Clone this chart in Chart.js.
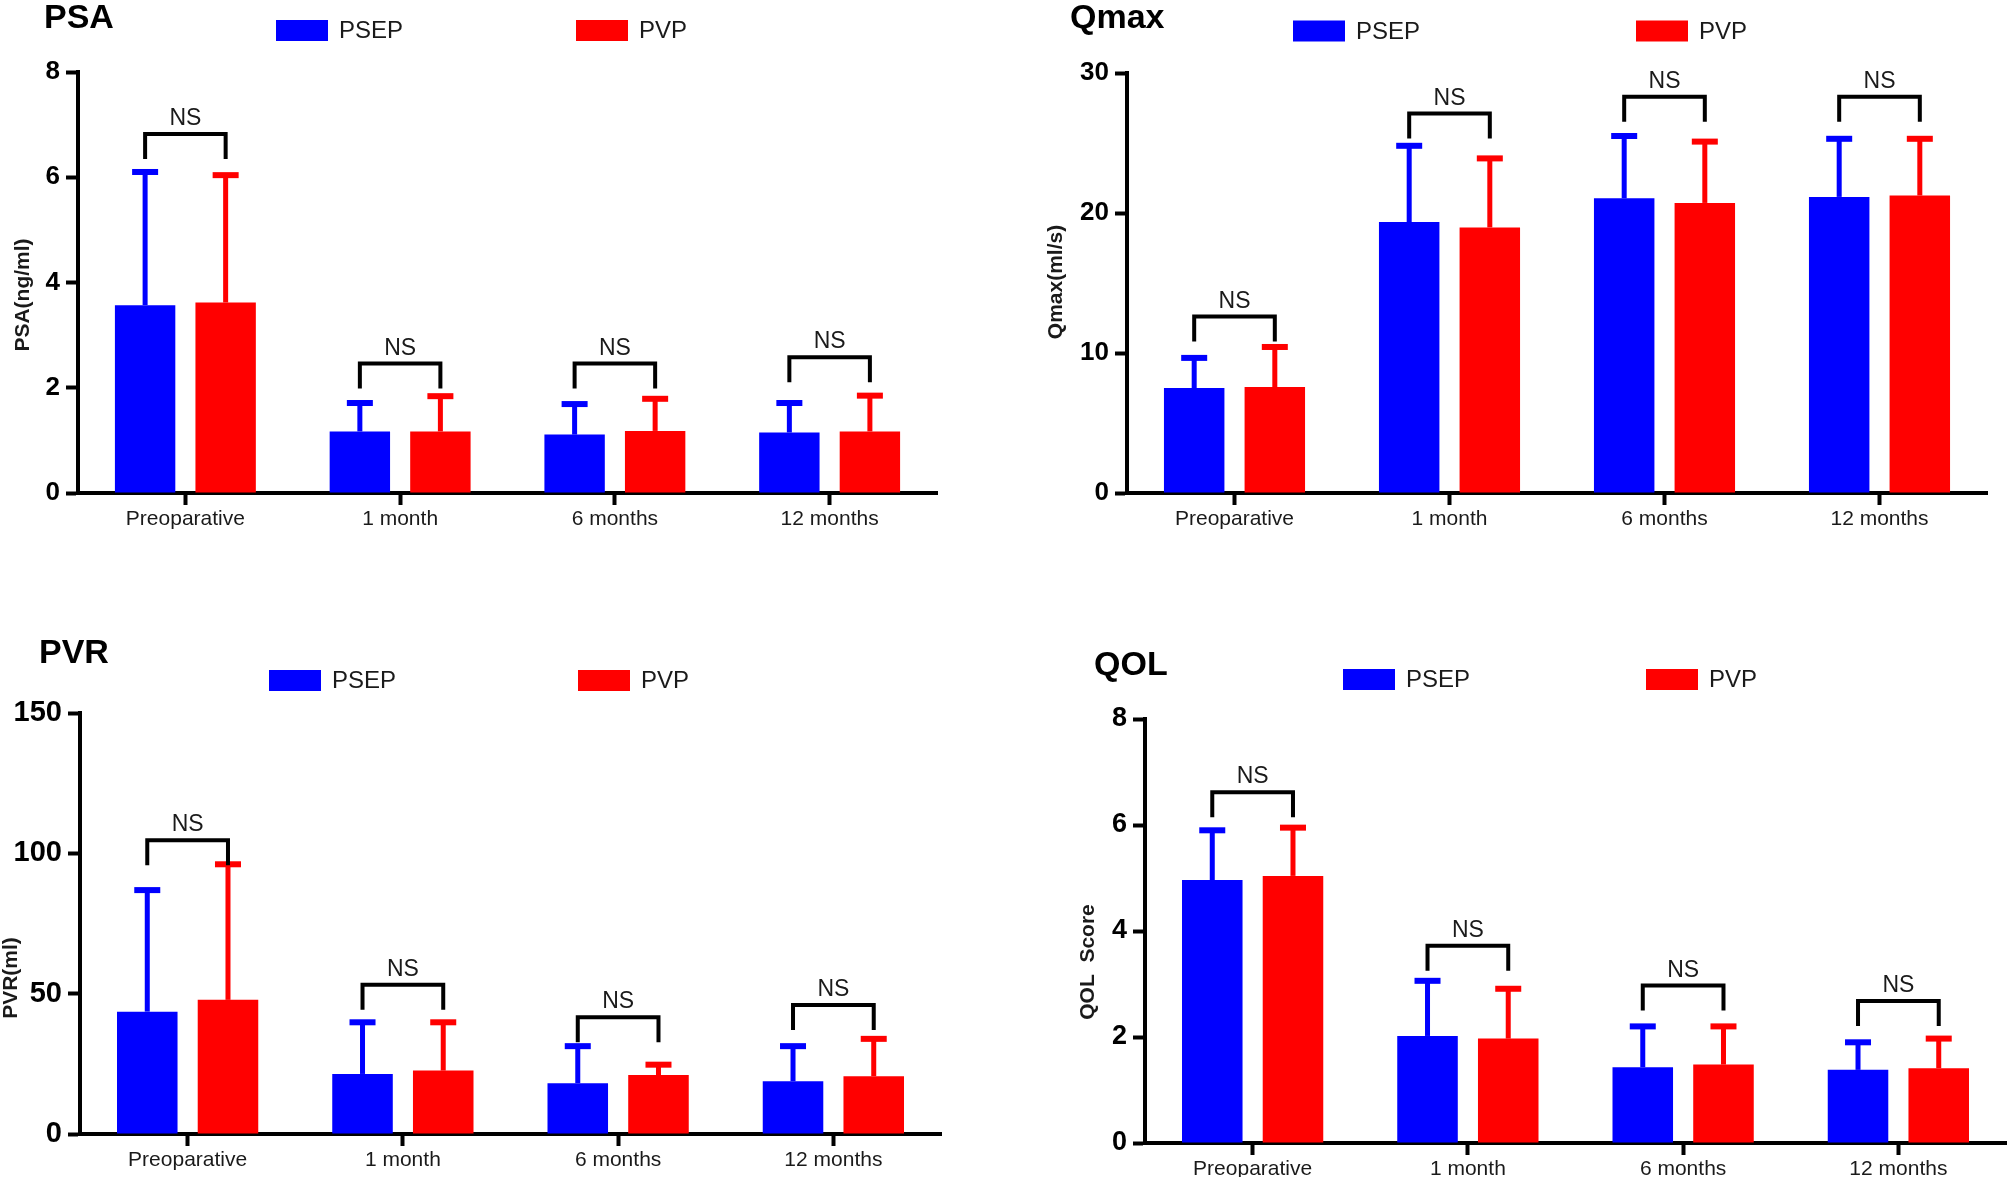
<!DOCTYPE html>
<html lang="en">
<head>
<meta charset="UTF-8">
<title>PSEP vs PVP follow-up</title>
<script src="https://cdn.jsdelivr.net/npm/chart.js@4.4.0/dist/chart.umd.min.js"></script>
<style>
  body { margin: 0; background: #fff; width: 2008px; height: 1177px; position: relative; overflow: hidden; }
  canvas { position: absolute; }
</style>
</head>
<body>
<canvas id="psa" width="1004" height="588" style="left:0;top:0"></canvas>
<canvas id="qmax" width="1004" height="588" style="left:1004px;top:0"></canvas>
<canvas id="pvr" width="1004" height="588" style="left:0;top:589px"></canvas>
<canvas id="qol" width="1004" height="588" style="left:1004px;top:589px"></canvas>
<script>
const timepoints = ['Preoparative', '1 month', '6 months', '12 months'];
const groupNames = ['PSEP', 'PVP'];
const groupColors = ['#0000ff', '#ff0000'];

// PSA (ng/ml), mean and SD
const psaPsep = [3.57, 1.17, 1.11, 1.15];
const psaPsepSd = [2.53, 0.54, 0.58, 0.56];
const psaPvp = [3.62, 1.17, 1.18, 1.17];
const psaPvpSd = [2.42, 0.67, 0.61, 0.68];
const psaNs = [6.82, 2.46, 2.46, 2.58];
const psaTicks = [0, 2, 4, 6, 8];

// Qmax (ml/s)
const qmaxPsep = [7.50, 19.35, 21.05, 21.15];
const qmaxPsepSd = [2.15, 5.45, 4.45, 4.15];
const qmaxPvp = [7.57, 18.97, 20.72, 21.25];
const qmaxPvpSd = [2.86, 4.93, 4.38, 4.05];
const qmaxNs = [12.6, 27.1, 28.3, 28.3];
const qmaxTicks = [0, 10, 20, 30];

// PVR (ml)
const pvrPsep = [43.6, 21.4, 18.1, 18.8];
const pvrPsepSd = [43.3, 18.4, 13.2, 12.5];
const pvrPvp = [47.8, 22.6, 21.0, 20.6];
const pvrPvpSd = [48.3, 17.2, 3.7, 13.3];
const pvrNs = [104.7, 53.2, 41.6, 46.0];
const pvrTicks = [0, 50, 100, 150];

// QOL score
const qolPsep = [4.96, 2.02, 1.43, 1.38];
const qolPsepSd = [0.94, 1.04, 0.77, 0.52];
const qolPvp = [5.04, 1.97, 1.48, 1.41];
const qolPvpSd = [0.91, 0.94, 0.72, 0.56];
const qolNs = [6.62, 3.72, 2.97, 2.68];
const qolTicks = [0, 2, 4, 6, 8];

const FONT = "'Liberation Sans', Arial, sans-serif";
Chart.defaults.font.family = FONT;

// error bars, NS brackets, panel title, legend and y title
const decor = {
  id: 'decor',
  afterDatasetsDraw(chart) {
    const ctx = chart.ctx, y = chart.scales.y;
    chart.data.datasets.forEach((ds, i) => {
      chart.getDatasetMeta(i).data.forEach((bar, j) => {
        const top = y.getPixelForValue(ds.data[j] + ds.sd[j]);
        ctx.fillStyle = ds.backgroundColor;
        ctx.fillRect(bar.x - 2.5, top, 5, bar.y - top);
        ctx.fillRect(bar.x - 13, top - 3, 26, 6);
      });
    });
  },
  afterDraw(chart, args, o) {
    const ctx = chart.ctx, y = chart.scales.y;
    const m0 = chart.getDatasetMeta(0).data, m1 = chart.getDatasetMeta(1).data;
    ctx.save();
    // brackets
    ctx.strokeStyle = '#000';
    ctx.lineWidth = 4;
    ctx.lineJoin = 'miter';
    ctx.font = '23px ' + FONT;
    ctx.fillStyle = '#1a1a1a';
    ctx.textAlign = 'center';
    ctx.textBaseline = 'alphabetic';
    o.ns.forEach((v, j) => {
      const x1 = m0[j].x, x2 = m1[j].x, yt = y.getPixelForValue(v);
      ctx.beginPath();
      ctx.moveTo(x1, yt + 25);
      ctx.lineTo(x1, yt);
      ctx.lineTo(x2, yt);
      ctx.lineTo(x2, yt + 25);
      ctx.stroke();
      ctx.fillText('NS', (x1 + x2) / 2, yt - 9);
    });
    // title
    ctx.textAlign = 'left';
    ctx.fillStyle = '#000';
    ctx.font = 'bold 34px ' + FONT;
    ctx.fillText(o.title, o.titleX - o.ox, o.titleY - o.oy);
    // legend
    ctx.font = '24px ' + FONT;
    ctx.textBaseline = 'middle';
    groupNames.forEach((g, i) => {
      const bx = o.legendX[i] - o.ox, cy = o.legendY - o.oy;
      ctx.fillStyle = groupColors[i];
      ctx.fillRect(bx, cy - 10.5, 52, 21);
      ctx.fillStyle = '#1a1a1a';
      ctx.fillText(g, bx + 63, cy + 1);
    });
    // y axis title
    ctx.translate(o.yTitleX - o.ox, o.yTitleY - o.oy);
    ctx.rotate(-Math.PI / 2);
    ctx.textAlign = 'center';
    ctx.font = 'bold 21px ' + FONT;
    ctx.fillStyle = '#1a1a1a';
    ctx.fillText(o.yTitle, 0, 0);
    ctx.restore();
  }
};

function panel(id, p) {
  const W = 1004, H = 588;
  new Chart(document.getElementById(id), {
    type: 'bar',
    data: {
      labels: timepoints,
      datasets: [
        { label: groupNames[0], data: p.a, sd: p.aSd, backgroundColor: groupColors[0] },
        { label: groupNames[1], data: p.b, sd: p.bSd, backgroundColor: groupColors[1] }
      ]
    },
    options: {
      responsive: false,
      animation: false,
      datasets: { bar: { barPercentage: 0.75, categoryPercentage: 0.75, borderWidth: 0 } },
      layout: { padding: { left: 0, top: p.area.top, right: W - p.area.right, bottom: 0 } },
      plugins: {
        legend: { display: false },
        tooltip: { enabled: false },
        decor: {
          ns: p.ns, title: p.title, titleX: p.titleX, titleY: p.titleY,
          legendX: p.legendX, legendY: p.legendY,
          yTitle: p.yTitle, yTitleX: p.yTitleX, yTitleY: p.yTitleY,
          ox: p.ox, oy: p.oy
        }
      },
      scales: {
        x: {
          z: 1,
          grid: { offset: false, drawOnChartArea: false, tickLength: 12, tickWidth: 4, tickColor: '#000' },
          border: { color: '#000', width: 4 },
          ticks: { color: '#1a1a1a', font: { size: 21 }, padding: 2, maxRotation: 0, autoSkip: false },
          afterFit: s => { s.height = H - p.area.bottom; }
        },
        y: {
          z: 1,
          min: p.ticks[0],
          max: p.ticks[p.ticks.length - 1],
          afterBuildTicks: s => { s.ticks = p.ticks.map(v => ({ value: v })); },
          grid: { drawOnChartArea: false, tickLength: 12, tickWidth: 4, tickColor: '#000' },
          border: { color: '#000', width: 4 },
          ticks: { color: '#000', font: { size: p.tickSize, weight: 'bold' }, padding: 6 },
          afterFit: s => { s.width = p.area.left; }
        }
      }
    },
    plugins: [decor]
  });
}

panel('psa', {
  a: psaPsep, aSd: psaPsepSd, b: psaPvp, bSd: psaPvpSd, ns: psaNs, ticks: psaTicks,
  ox: 0, oy: 0, area: { left: 78, top: 72, right: 937, bottom: 493 }, tickSize: 26,
  title: 'PSA', titleX: 44, titleY: 28, legendX: [276, 576], legendY: 30.5,
  yTitle: 'PSA(ng/ml)', yTitleX: 23, yTitleY: 295
});
panel('qmax', {
  a: qmaxPsep, aSd: qmaxPsepSd, b: qmaxPvp, bSd: qmaxPvpSd, ns: qmaxNs, ticks: qmaxTicks,
  ox: 1004, oy: 0, area: { left: 123, top: 73, right: 983, bottom: 493 }, tickSize: 26,
  title: 'Qmax', titleX: 1070, titleY: 28, legendX: [1293, 1636], legendY: 31,
  yTitle: 'Qmax(ml/s)', yTitleX: 1056, yTitleY: 282
});
panel('pvr', {
  a: pvrPsep, aSd: pvrPsepSd, b: pvrPvp, bSd: pvrPvpSd, ns: pvrNs, ticks: pvrTicks,
  ox: 0, oy: 589, area: { left: 80, top: 124, right: 941, bottom: 545 }, tickSize: 29,
  title: 'PVR', titleX: 39, titleY: 663, legendX: [269, 578], legendY: 680.5,
  yTitle: 'PVR(ml)', yTitleX: 11, yTitleY: 978
});
panel('qol', {
  a: qolPsep, aSd: qolPsepSd, b: qolPvp, bSd: qolPvpSd, ns: qolNs, ticks: qolTicks,
  ox: 1004, oy: 589, area: { left: 141, top: 130, right: 1002, bottom: 554 }, tickSize: 27,
  title: 'QOL', titleX: 1094, titleY: 675, legendX: [1343, 1646], legendY: 679.5,
  yTitle: 'QOL  Score', yTitleX: 1088, yTitleY: 962
});
</script>
</body>
</html>
